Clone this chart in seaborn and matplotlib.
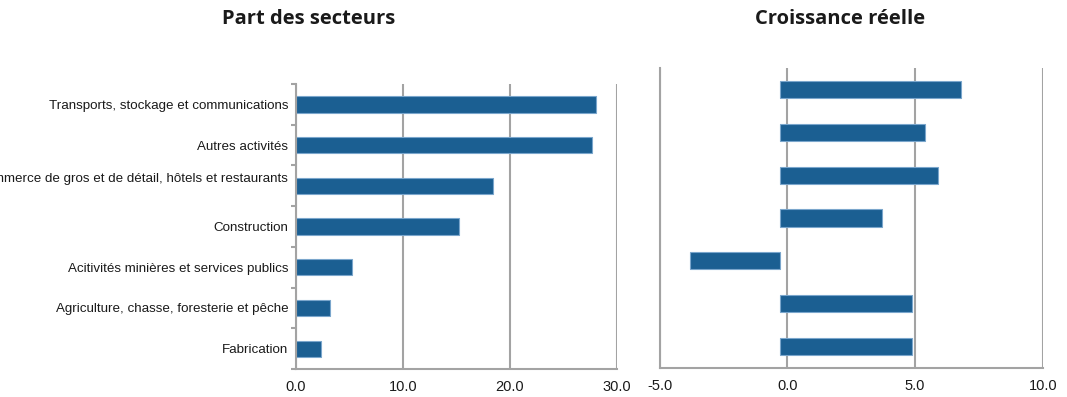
import matplotlib
matplotlib.use("Agg")
import matplotlib.pyplot as plt
import matplotlib.transforms as mtransforms
from matplotlib.ticker import FixedLocator
import seaborn as sns
import pandas as pd

# Sectors, shares of output (%) and real growth (%)
sectors = [
    "Transports, stockage et communications",
    "Autres activités",
    "Commerce de gros et de détail, hôtels et restaurants",
    "Construction",
    "Acitivités minières et services publics",
    "Agriculture, chasse, foresterie et pêche",
    "Fabrication",
]
share = [28.0, 27.7, 18.4, 15.2, 5.2, 3.2, 2.3]
growth = [6.8, 5.4, 5.9, 3.7, -3.8, 4.9, 4.9]
growth_base = -0.3  # category axis crosses the value axis here

share_ticks = [0, 10, 20, 30]
growth_ticks = [-5, 0, 5, 10]

titles = ["Part des secteurs", "Croissance réelle"]

sns.set_theme(style="white")
plt.rcParams["font.family"] = ["Liberation Sans", "DejaVu Sans"]

BAR = "#1b5f92"
EDGE = "#7aa6cc"
GRID = "#a3a3a3"
TEXT = "#1a1a1a"
LW = 1.5

df = pd.DataFrame({"sector": sectors, "share": share, "growth": growth})

fig = plt.figure(figsize=(10.67, 3.97), dpi=100)
ax1 = fig.add_axes([296 / 1067, 1 - 369 / 397, 321 / 1067, 285 / 397])
ax2 = fig.add_axes([659.7 / 1067, 1 - 368 / 397, 383 / 1067, 300 / 397])

# Left panel: sector shares
sns.barplot(data=df, y="sector", x="share", orient="h", color=BAR,
            width=0.4, saturation=1, edgecolor=EDGE, linewidth=0.8, ax=ax1)
ax1.set_xlim(0, 30)
ax1.set_ylim(6.5, -0.5)
ax1.set_xticks(share_ticks)
ax1.set_xticklabels([f"{t:.1f}" for t in share_ticks], fontsize=10.5, color=TEXT)
ax1.tick_params(axis="x", length=3, width=LW, color=GRID, pad=5, direction="out")
ax1.tick_params(axis="y", which="major", length=0, pad=5.5, labelsize=9.6, labelcolor=TEXT)
ax1.yaxis.set_minor_locator(FixedLocator([i - 0.5 for i in range(len(sectors) + 1)]))
ax1.tick_params(axis="y", which="minor", length=3.5, width=LW, color=GRID, left=True)
ax1.set_xlabel("")
ax1.set_ylabel("")
ax1.grid(axis="x", color=GRID, linewidth=LW)
ax1.set_axisbelow(True)
for side in ["left", "bottom", "right"]:
    ax1.spines[side].set_color(GRID)
    ax1.spines[side].set_linewidth(LW)
ax1.spines["top"].set_visible(False)
ax1.spines["right"].set_visible(False)

# Nudge the long label upward a little
lbl = ax1.get_yticklabels()[2]
lbl.set_transform(lbl.get_transform() + mtransforms.ScaledTranslation(0, 8 / 100, fig.dpi_scale_trans))

# Right panel: real growth, bars start from the crossing value
sns.barplot(data=df, y="sector", x="growth", orient="h", color=BAR,
            width=0.4, saturation=1, edgecolor=EDGE, linewidth=0.8, ax=ax2)
for patch, v in zip(ax2.patches, growth):
    patch.set_x(min(v, growth_base))
    patch.set_width(abs(v - growth_base))
ax2.set_xlim(-5, 10)
ax2.set_ylim(6.5, -0.5)
ax2.set_xticks(growth_ticks)
ax2.set_xticklabels([f"{t:.1f}" for t in growth_ticks], fontsize=10.5, color=TEXT)
ax2.tick_params(axis="x", length=0, pad=8)
ax2.set_yticks([])
ax2.set_xlabel("")
ax2.set_ylabel("")
ax2.grid(axis="x", color=GRID, linewidth=LW)
ax2.set_axisbelow(True)
for side in ["left", "bottom", "right"]:
    ax2.spines[side].set_color(GRID)
    ax2.spines[side].set_linewidth(LW)
ax2.spines["top"].set_visible(False)
ax2.spines["right"].set_visible(False)

fig.text(309 / 1067, 1 - 19 / 397, titles[0], ha="center", va="center",
         fontsize=14.5, fontweight="bold", family=["Open Sans", "DejaVu Sans"], color=TEXT)
fig.text(840 / 1067, 1 - 19 / 397, titles[1], ha="center", va="center",
         fontsize=14.5, fontweight="bold", family=["Open Sans", "DejaVu Sans"], color=TEXT)

fig.savefig("out.png", dpi=100, facecolor="white")
